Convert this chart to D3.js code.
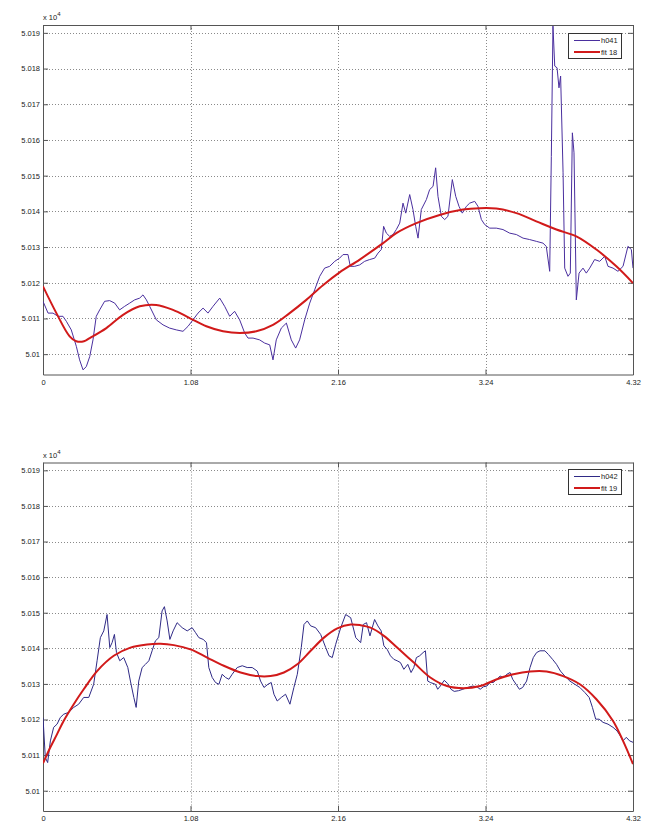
<!DOCTYPE html>
<html>
<head>
<meta charset="utf-8">
<script src="https://cdn.jsdelivr.net/npm/d3@7/dist/d3.min.js"></script>
<style>
  body { margin: 0; background: #fff; }
  svg text { font-family: "Liberation Sans", Arial, sans-serif; fill: #222; }
</style>
</head>
<body>
<svg id="chart" width="660" height="834"></svg>
<script>
// ---- tick labels ----
const xTicks = [0, 1.08, 2.16, 3.24, 4.32];
const yTicks = [50100, 50110, 50120, 50130, 50140, 50150, 50160, 50170, 50180, 50190];
const yExtent = [50094.3, 50192.2];

// ---- series names ----
const legendTop = ["h041", "fit 18"];
const legendBottom = ["h042", "fit 19"];

// ---- series values: [time, value] ----
const h041 = [
 [0,50114.8],[0.037,50111.5],[0.073,50111.5],[0.110,50110.6],[0.146,50110.6],[0.171,50109.2],[0.207,50106.8],
 [0.244,50102.2],[0.268,50098.4],[0.293,50095.6],[0.317,50096.5],[0.342,50099.3],[0.366,50104.0],[0.390,50110.6],
 [0.415,50112.4],[0.451,50114.8],[0.488,50115.0],[0.525,50114.3],[0.561,50112.4],[0.598,50113.4],[0.635,50114.3],
 [0.671,50115.2],[0.708,50115.7],[0.732,50116.6],[0.757,50115.2],[0.781,50113.4],[0.830,50109.6],[0.879,50108.2],
 [0.927,50107.3],[0.976,50106.8],[1.025,50106.4],[1.062,50107.8],[1.098,50109.6],[1.135,50111.5],[1.172,50112.9],
 [1.208,50111.5],[1.245,50113.4],[1.294,50115.7],[1.330,50113.4],[1.367,50110.6],[1.403,50112.0],[1.440,50109.6],
 [1.477,50105.9],[1.501,50104.5],[1.538,50104.5],[1.586,50104.0],[1.623,50103.1],[1.660,50102.6],[1.684,50098.4],
 [1.708,50104.0],[1.745,50107.3],[1.782,50108.7],[1.818,50104.0],[1.850,50101.7],[1.879,50104.0],[1.916,50109.6],
 [1.953,50114.3],[1.989,50118.0],[2.026,50121.8],[2.062,50124.1],[2.099,50124.6],[2.136,50126.0],[2.172,50126.9],
 [2.197,50127.9],[2.233,50127.9],[2.250,50124.6],[2.282,50124.6],[2.319,50125.0],[2.355,50126.0],[2.392,50126.5],
 [2.429,50126.9],[2.453,50128.3],[2.477,50129.3],[2.494,50135.8],[2.514,50133.9],[2.538,50133.0],[2.563,50133.5],
 [2.587,50134.9],[2.612,50136.7],[2.636,50142.3],[2.656,50139.5],[2.685,50144.7],[2.709,50140.5],[2.729,50135.8],
 [2.746,50132.5],[2.770,50140.5],[2.807,50143.3],[2.831,50146.1],[2.856,50147.0],[2.875,50152.2],[2.892,50144.2],
 [2.917,50138.6],[2.941,50137.7],[2.965,50138.6],[2.997,50148.9],[3.022,50144.2],[3.046,50141.4],[3.070,50139.5],
 [3.100,50141.4],[3.124,50142.3],[3.161,50142.8],[3.185,50141.4],[3.210,50137.7],[3.234,50136.3],[3.271,50135.3],
 [3.319,50135.3],[3.368,50134.9],[3.417,50133.9],[3.466,50133.5],[3.515,50132.5],[3.563,50132.1],[3.612,50131.6],
 [3.661,50131.1],[3.685,50130.2],[3.710,50123.2],[3.722,50155.4],[3.734,50191.9],[3.747,50180.7],[3.764,50180.2],
 [3.778,50174.6],[3.790,50177.9],[3.808,50150.8],[3.820,50124.1],[3.844,50121.8],[3.861,50122.7],[3.876,50162.0],
 [3.888,50156.4],[3.905,50115.2],[3.925,50122.7],[3.954,50124.1],[3.978,50122.7],[4.003,50124.1],[4.039,50126.5],
 [4.076,50126.0],[4.113,50127.4],[4.137,50124.6],[4.174,50124.1],[4.210,50123.2],[4.247,50124.6],[4.283,50130.2],
 [4.308,50129.3],[4.320,50124.1]
];
const fit18 = [
 [0,50119.0],[0.098,50111.5],[0.195,50105.0],[0.244,50103.6],[0.300,50103.6],[0.342,50104.5],[0.464,50107.3],
 [0.586,50111.0],[0.708,50113.4],[0.830,50113.8],[0.952,50112.4],[1.074,50110.1],[1.196,50107.8],[1.318,50106.4],
 [1.440,50105.9],[1.562,50106.4],[1.684,50108.2],[1.806,50111.5],[1.928,50115.2],[2.050,50119.3],[2.172,50122.9],
 [2.319,50126.5],[2.490,50131.1],[2.587,50133.9],[2.734,50136.7],[2.904,50139.0],[3.075,50140.5],[3.197,50140.9],
 [3.319,50140.8],[3.466,50139.5],[3.612,50137.2],[3.759,50134.9],[3.905,50133.0],[4.052,50129.3],[4.198,50124.6],
 [4.320,50119.9]
];
const h042 = [
 [0,50120.5],[0.017,50109.3],[0.034,50107.9],[0.054,50114.0],[0.078,50117.8],[0.103,50118.7],[0.127,50120.6],
 [0.152,50121.5],[0.188,50122.0],[0.225,50123.4],[0.261,50124.3],[0.298,50126.2],[0.335,50126.2],[0.371,50129.9],
 [0.396,50136.5],[0.420,50143.0],[0.445,50144.9],[0.469,50149.5],[0.489,50140.2],[0.506,50141.6],[0.523,50143.9],
 [0.538,50138.8],[0.562,50136.5],[0.591,50137.4],[0.621,50134.6],[0.640,50130.8],[0.665,50126.2],[0.682,50123.4],
 [0.701,50130.8],[0.726,50134.6],[0.750,50135.5],[0.775,50136.5],[0.799,50139.3],[0.823,50142.1],[0.848,50143.0],
 [0.872,50150.5],[0.889,50151.7],[0.909,50147.7],[0.929,50142.5],[0.953,50144.9],[0.982,50147.2],[1.019,50145.8],
 [1.056,50144.9],[1.092,50145.8],[1.117,50144.4],[1.141,50143.0],[1.173,50142.5],[1.197,50141.6],[1.214,50134.6],
 [1.239,50131.8],[1.263,50130.4],[1.288,50129.9],[1.312,50132.7],[1.337,50131.8],[1.361,50131.3],[1.385,50132.7],
 [1.422,50134.6],[1.459,50135.1],[1.495,50134.6],[1.532,50134.6],[1.569,50133.6],[1.593,50130.8],[1.618,50129.0],
 [1.647,50129.9],[1.671,50130.4],[1.691,50127.1],[1.715,50125.2],[1.745,50126.2],[1.776,50127.1],[1.808,50124.3],
 [1.837,50129.0],[1.862,50132.7],[1.891,50140.2],[1.911,50146.7],[1.935,50147.7],[1.960,50146.3],[1.996,50145.8],
 [2.033,50143.9],[2.070,50140.2],[2.094,50137.9],[2.118,50137.4],[2.143,50141.1],[2.180,50145.8],[2.216,50149.5],
 [2.253,50148.6],[2.290,50143.0],[2.326,50141.6],[2.345,50146.7],[2.369,50147.2],[2.394,50143.5],[2.411,50145.8],
 [2.428,50148.1],[2.452,50146.3],[2.476,50144.9],[2.496,50140.7],[2.520,50139.7],[2.544,50137.9],[2.569,50136.9],
 [2.593,50136.5],[2.617,50136.0],[2.642,50134.1],[2.671,50135.5],[2.695,50133.2],[2.715,50134.6],[2.734,50137.4],
 [2.758,50137.9],[2.783,50138.8],[2.800,50139.3],[2.817,50130.8],[2.836,50130.4],[2.873,50129.9],[2.890,50128.5],
 [2.909,50129.4],[2.938,50131.0],[2.963,50130.1],[2.987,50128.5],[3.011,50127.9],[3.043,50128.1],[3.074,50128.5],
 [3.109,50129.0],[3.147,50129.4],[3.177,50129.2],[3.201,50128.5],[3.225,50129.2],[3.250,50129.4],[3.274,50130.4],
 [3.298,50130.4],[3.323,50131.3],[3.347,50132.2],[3.371,50131.8],[3.396,50132.7],[3.420,50133.2],[3.439,50131.3],
 [3.464,50129.9],[3.488,50128.5],[3.512,50129.0],[3.541,50130.8],[3.566,50134.6],[3.590,50137.4],[3.614,50138.8],
 [3.639,50139.3],[3.675,50139.3],[3.700,50138.3],[3.731,50136.9],[3.760,50135.5],[3.789,50133.6],[3.821,50132.2],
 [3.858,50130.8],[3.894,50129.9],[3.931,50129.0],[3.967,50127.6],[3.999,50126.2],[4.023,50123.4],[4.047,50120.1],
 [4.072,50120.1],[4.101,50119.2],[4.137,50118.7],[4.174,50117.8],[4.203,50116.8],[4.227,50115.4],[4.247,50114.0],
 [4.271,50115.0],[4.295,50114.0],[4.320,50113.6]
];
const fit19 = [
 [0,50107.7],[0.054,50112.2],[0.103,50115.9],[0.151,50119.6],[0.225,50124.3],[0.298,50128.5],[0.396,50133.6],
 [0.518,50137.9],[0.640,50140.2],[0.762,50141.1],[0.860,50141.3],[0.958,50140.9],[1.080,50139.7],[1.202,50137.4],
 [1.324,50135.1],[1.447,50133.2],[1.569,50132.2],[1.666,50132.2],[1.764,50133.2],[1.862,50135.5],[1.960,50139.3],
 [2.057,50143.0],[2.155,50145.6],[2.253,50146.7],[2.325,50146.5],[2.398,50145.8],[2.496,50143.5],[2.593,50140.2],
 [2.715,50136.0],[2.836,50131.8],[2.958,50129.4],[3.079,50128.8],[3.201,50129.4],[3.323,50131.3],[3.444,50132.7],
 [3.566,50133.5],[3.687,50133.5],[3.809,50132.2],[3.931,50129.9],[4.052,50125.7],[4.174,50119.6],[4.247,50114.0],
 [4.320,50107.5]
];

const svg = d3.select("#chart");
const fmtY = d3.format(".3~f");

function panel(cfg) {
  const g = svg.append("g");
  const x = d3.scaleLinear().domain([0, 4.32]).range([cfg.left, cfg.right]);
  const y = d3.scaleLinear().domain(yExtent).range([cfg.bottom, cfg.top]);
  const gridColor = "#8a8a8a";

  // grid
  g.append("g").selectAll("line").data(yTicks).join("line")
    .attr("x1", cfg.left).attr("x2", cfg.right)
    .attr("y1", d => Math.round(y(d)) + 0.5).attr("y2", d => Math.round(y(d)) + 0.5)
    .attr("stroke", gridColor).attr("stroke-width", 1).attr("stroke-dasharray", "1,2");
  g.append("g").selectAll("line").data(xTicks.slice(1, -1)).join("line")
    .attr("y1", cfg.top).attr("y2", cfg.bottom)
    .attr("x1", d => Math.round(x(d)) + 0.5).attr("x2", d => Math.round(x(d)) + 0.5)
    .attr("stroke", gridColor).attr("stroke-width", 1).attr("stroke-dasharray", "1,2");

  // axes with inward ticks
  const axL = d3.axisLeft(y).tickValues(yTicks).tickSizeInner(-5).tickSizeOuter(0).tickPadding(3).tickFormat(d => fmtY(d / 1e4));
  const axR = d3.axisRight(y).tickValues(yTicks).tickSizeInner(-5).tickSizeOuter(0).tickFormat("");
  const axB = d3.axisBottom(x).tickValues(xTicks).tickSizeInner(-5).tickSizeOuter(0).tickPadding(5).tickFormat(d => d === 0 ? "0" : d3.format(".2f")(d));
  const axT = d3.axisTop(x).tickValues(xTicks).tickSizeInner(-5).tickSizeOuter(0).tickFormat("");
  const axColor = "#555";
  function style(sel) {
    sel.selectAll("path").attr("stroke", axColor);
    sel.selectAll("line").attr("stroke", axColor);
    sel.selectAll("text").attr("font-size", "7.5px").attr("fill", "#222")
      .attr("font-family", "'Liberation Sans', Arial, sans-serif");
  }
  g.append("g").attr("transform", `translate(${cfg.left},0)`).call(axL).call(style);
  g.append("g").attr("transform", `translate(${cfg.right},0)`).call(axR).call(style);
  g.append("g").attr("transform", `translate(0,${cfg.bottom})`).call(axB).call(style);
  g.append("g").attr("transform", `translate(0,${cfg.top})`).call(axT).call(style);

  // exponent label
  const ex = g.append("text").attr("x", cfg.left).attr("y", cfg.top - 5)
    .attr("font-size", "7.5px").attr("fill", "#222");
  ex.append("tspan").text("x 10");
  ex.append("tspan").attr("dy", -4).attr("font-size", "6px").text("4");

  // clip
  const cid = "clip" + cfg.id;
  svg.append("defs").append("clipPath").attr("id", cid).append("rect")
    .attr("x", cfg.left).attr("y", cfg.top).attr("width", cfg.right - cfg.left).attr("height", cfg.bottom - cfg.top);

  const lineRaw = d3.line().x(d => x(d[0])).y(d => y(d[1]));
  const lineFit = d3.line().x(d => x(d[0])).y(d => y(d[1])).curve(d3.curveCatmullRom.alpha(0.5));

  g.append("path").datum(cfg.raw).attr("clip-path", `url(#${cid})`)
    .attr("d", lineRaw).attr("fill", "none").attr("stroke", cfg.rawColor).attr("stroke-width", 1);
  g.append("path").datum(cfg.fit).attr("clip-path", `url(#${cid})`)
    .attr("d", lineFit).attr("fill", "none").attr("stroke", "#d11a1a").attr("stroke-width", 2);

  // legend
  const lg = g.append("g");
  lg.append("rect").attr("x", cfg.lx + 0.5).attr("y", cfg.ly + 0.5).attr("width", 53).attr("height", 25)
    .attr("fill", "#fff").attr("stroke", "#333").attr("stroke-width", 1);
  const items = [[cfg.names[0], cfg.rawColor, 1], [cfg.names[1], "#d11a1a", 2]];
  items.forEach((it, i) => {
    const yy = cfg.ly + 7.5 + i * 11.5;
    lg.append("line").attr("x1", cfg.lx + 6).attr("x2", cfg.lx + 32).attr("y1", yy).attr("y2", yy)
      .attr("stroke", it[1]).attr("stroke-width", it[2]);
    lg.append("text").attr("x", cfg.lx + 33).attr("y", yy + 2.7).attr("font-size", "7.5px").attr("fill", "#222").text(it[0]);
  });
}

panel({ id: 1, left: 43, right: 633, top: 25, bottom: 374.5, raw: h041, fit: fit18, rawColor: "#4a2f9e",
        names: legendTop, lx: 568, ly: 33 });
panel({ id: 2, left: 43, right: 633, top: 462.5, bottom: 811, raw: h042, fit: fit19, rawColor: "#2f2a86",
        names: legendBottom, lx: 568, ly: 469 });
</script>
</body>
</html>
